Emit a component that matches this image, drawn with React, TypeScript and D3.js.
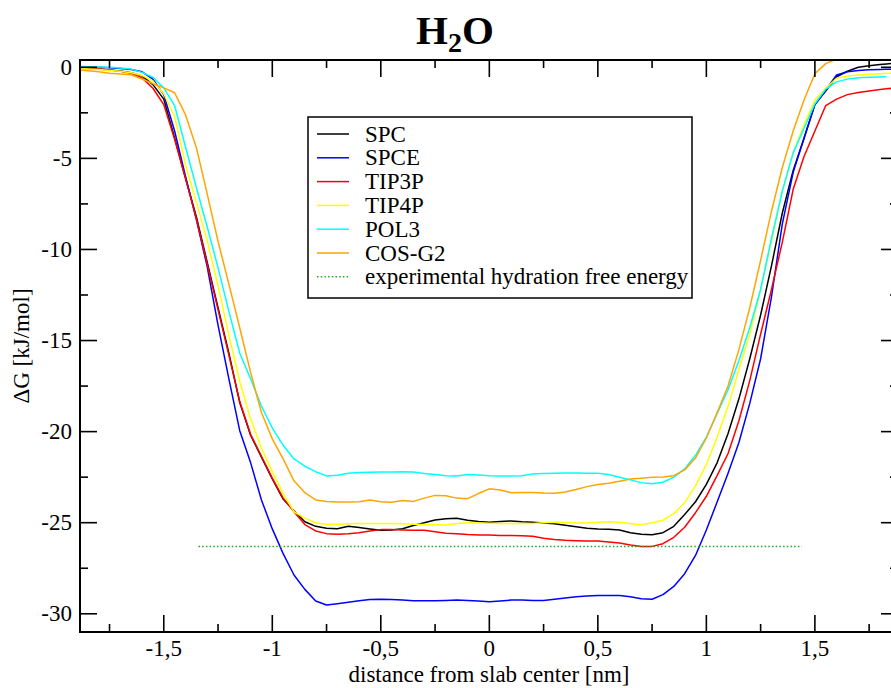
import React from "react";
import * as d3 from "d3";

// distance from slab center [nm]
const xs = [
  -1.886, -1.8, -1.75, -1.7, -1.65, -1.6, -1.55, -1.5, -1.45, -1.4,
  -1.35, -1.3, -1.25, -1.2, -1.15, -1.1, -1.05, -1.0, -0.95, -0.9,
  -0.85, -0.8, -0.75, -0.7, -0.65, -0.6, -0.55, -0.5, -0.45, -0.4,
  -0.35, -0.3, -0.25, -0.2, -0.15, -0.1, -0.05, 0, 0.05, 0.1,
  0.15, 0.2, 0.25, 0.3, 0.35, 0.4, 0.45, 0.5, 0.55, 0.6,
  0.65, 0.7, 0.75, 0.8, 0.85, 0.9, 0.95, 1.0, 1.05, 1.1,
  1.15, 1.2, 1.25, 1.3, 1.35, 1.4, 1.45, 1.5, 1.55, 1.6,
  1.65, 1.7, 1.75, 1.8, 1.83, 1.886,
];

const spc = [
  -0.05, -0.1, -0.15, -0.2, -0.3, -0.48, -0.95, -1.75, -3.88, -6.08,
  -8.2, -10.7, -13.2, -15.7, -18.4, -20.2, -21.4, -22.6, -23.7, -24.35,
  -24.95, -25.2, -25.3, -25.33, -25.2, -25.27, -25.35, -25.42, -25.4, -25.33,
  -25.15, -25.0, -24.85, -24.78, -24.76, -24.86, -24.93, -24.97, -24.93, -24.9,
  -24.95, -24.98, -25.02, -25.06, -25.14, -25.22, -25.3, -25.35, -25.36, -25.4,
  -25.55, -25.64, -25.66, -25.55, -25.2, -24.55, -23.85, -22.9, -21.7, -20.1,
  -18.2, -16.0, -13.6, -10.9, -8.0, -5.66, -3.9, -2.05, -1.3, -0.52,
  -0.22, 0.0, 0.08, 0.15, 0.18, 0.25,
];

const spce = [
  0.03, 0.0, -0.03, -0.07, -0.12, -0.25, -0.65, -1.5, -3.5, -5.98,
  -8.35, -10.94, -14.15, -17.1, -19.95, -21.7, -23.75, -25.34, -26.7, -27.87,
  -28.66, -29.3, -29.52, -29.45, -29.37, -29.28, -29.21, -29.2, -29.21, -29.25,
  -29.29, -29.29, -29.29, -29.27, -29.24, -29.27, -29.3, -29.34, -29.3, -29.25,
  -29.24, -29.27, -29.27, -29.2, -29.13, -29.07, -29.03, -29.0, -29.0, -29.0,
  -29.07, -29.18, -29.2, -28.95, -28.5, -27.8, -26.8, -25.4, -23.85, -22.28,
  -20.6, -18.45, -16.0, -12.6, -8.6, -5.77, -3.9, -2.05, -1.25, -0.42,
  -0.25, -0.17, -0.13, -0.12, -0.11, -0.11,
];

const tip3p = [
  -0.03, -0.1, -0.15, -0.22, -0.33, -0.58, -1.15, -2.05, -3.95, -6.1,
  -8.3, -10.8, -13.3, -15.8, -18.35, -20.15, -21.35, -22.55, -23.65, -24.4,
  -25.1, -25.45, -25.6, -25.63, -25.6, -25.55, -25.45, -25.38, -25.38, -25.4,
  -25.42, -25.42, -25.5, -25.58, -25.6, -25.65, -25.67, -25.68, -25.7, -25.7,
  -25.72, -25.75, -25.85, -25.92, -25.97, -25.99, -26.0, -26.01, -26.06, -26.12,
  -26.22, -26.3, -26.3, -26.15, -25.8, -25.25, -24.45, -23.55, -22.4, -21.2,
  -19.4, -17.2, -14.65, -12.2, -9.6, -6.7, -4.9, -3.5, -2.1, -1.75,
  -1.5, -1.38, -1.3, -1.22, -1.18, -1.12,
];

const tip4p = [
  -0.07, -0.12, -0.17, -0.22, -0.3, -0.45, -0.75, -1.45, -2.7, -5.35,
  -7.4, -9.5, -12.0, -14.7, -17.25, -19.3, -20.9, -22.2, -23.4, -24.4,
  -24.75, -25.0, -25.1, -25.08, -25.06, -25.05, -25.05, -25.05, -25.05, -25.06,
  -25.08, -25.1, -25.11, -25.12, -25.05, -25.0, -25.02, -25.03, -25.04, -25.05,
  -25.05, -25.04, -25.0, -24.98, -24.99, -25.01, -25.02, -24.98, -24.95, -24.97,
  -25.05, -25.12, -25.0, -24.86, -24.5, -23.9, -22.98, -21.8, -20.3, -18.6,
  -16.6, -14.65, -12.2, -9.55, -6.8, -4.68, -3.15, -1.8, -1.15, -0.6,
  -0.48, -0.42, -0.38, -0.35, -0.33, -0.32,
];

const pol3 = [
  0.05, 0.02, 0.0, -0.04, -0.1, -0.28, -0.55, -1.13, -2.1, -4.36,
  -6.6, -8.75, -11.0, -13.4, -15.7, -17.1, -18.6, -19.8, -20.75, -21.5,
  -21.9, -22.2, -22.43, -22.4, -22.28, -22.25, -22.23, -22.22, -22.22, -22.2,
  -22.22, -22.3, -22.36, -22.42, -22.43, -22.36, -22.38, -22.42, -22.43, -22.44,
  -22.42, -22.32, -22.3, -22.28, -22.27, -22.27, -22.28, -22.29, -22.35, -22.5,
  -22.65, -22.8, -22.86, -22.78, -22.5, -22.05, -21.3, -20.3, -19.0, -17.7,
  -16.1, -14.3, -12.2, -9.4, -6.8, -4.7, -3.35, -2.0, -1.2, -0.8,
  -0.65, -0.58, -0.55, -0.53, -0.52, NaN,
];

const cosg2 = [
  -0.15, -0.25, -0.33, -0.37, -0.41, -0.64, -0.9, -1.13, -1.4, -2.6,
  -4.4, -6.95, -9.55, -11.9, -14.3, -16.75, -18.95, -20.4, -21.5, -22.7,
  -23.35, -23.75, -23.83, -23.87, -23.87, -23.85, -23.76, -23.85, -23.88, -23.78,
  -23.83, -23.65, -23.5, -23.52, -23.65, -23.68, -23.4, -23.14, -23.2, -23.35,
  -23.34, -23.34, -23.37, -23.38, -23.32, -23.18, -23.02, -22.9, -22.83, -22.72,
  -22.6, -22.56, -22.5, -22.49, -22.42, -22.1, -21.45, -20.35, -18.95, -17.5,
  -15.5, -13.2, -10.6, -7.9, -5.5, -3.5, -1.8, -0.35, 0.2, 0.45,
  0.65, 0.75, 0.82, 0.88, 0.9, 0.95,
];

const seriesNames = ["SPC", "SPCE", "TIP3P", "TIP4P", "POL3", "COS-G2"];
const seriesValues = [spc, spce, tip3p, tip4p, pol3, cosg2];
const seriesColors = ["#000000", "#0000ff", "#ff0000", "#ffff00", "#00ffff", "#ffa500"];

const expLabel = "experimental hydration free energy";
const expX = [-1.34, 1.44];
const expValue = -26.3;
const expColor = "#22a822";

const xMajorTicks = [-1.5, -1, -0.5, 0, 0.5, 1, 1.5];
const xMinorTicks = [-1.75, -1.25, -0.75, -0.25, 0.25, 0.75, 1.25, 1.75];
const yMajorTicks = [0, -5, -10, -15, -20, -25, -30];
const yMinorTicks = [-2.5, -7.5, -12.5, -17.5, -22.5, -27.5];

const W = 891;
const H = 688;
const L = 80;
const R = 898;
const T = 60;
const B = 632;
const FONT = "'Liberation Serif', 'Times New Roman', serif";
const FS = 23;

export default function App() {
  const x = d3.scaleLinear().domain([-1.886, 1.883]).range([L, R]);
  const y = d3.scaleLinear().domain([0.4, -31]).range([T, B]);

  const line = d3
    .line<number>()
    .defined((d) => !Number.isNaN(d))
    .x((_, i) => x(xs[i]))
    .y((d) => y(d));

  const fmt = (v: number) => String(v).replace(".", ",");

  const legendX = 308;
  const legendY = 117;
  const legendW = 384;
  const legendH = 181;
  const rowY = (i: number) => 134 + i * 23.8;

  return (
    <svg
      width={W}
      height={H}
      style={{ position: "absolute", left: 0, top: 0, display: "block", background: "#fff" }}
      fontFamily={FONT}
    >
      <defs>
        <clipPath id="plotClip">
          <rect x={L} y={T} width={R - L} height={B - T} />
        </clipPath>
      </defs>
      <rect x={0} y={0} width={W} height={H} fill="#fff" />

      {/* title */}
      <text x={455} y={44} textAnchor="middle" fontSize={41} fontWeight="bold">
        H
        <tspan fontSize={28} dy={8}>
          2
        </tspan>
        <tspan dy={-8}>O</tspan>
      </text>

      {/* series */}
      <g clipPath="url(#plotClip)">
        {seriesValues.map((vals, si) => (
          <path
            key={seriesNames[si]}
            d={line(vals) || ""}
            fill="none"
            stroke={seriesColors[si]}
            strokeWidth={1.5}
            strokeLinejoin="round"
          />
        ))}
        <line
          x1={x(expX[0])}
          x2={x(expX[1])}
          y1={y(expValue)}
          y2={y(expValue)}
          stroke={expColor}
          strokeWidth={1.5}
          strokeDasharray="1.5,2.2"
        />
      </g>

      {/* frame */}
      <rect x={L} y={T} width={R - L} height={B - T} fill="none" stroke="#000" strokeWidth={2} />

      {/* x ticks */}
      {xMajorTicks.map((v) => (
        <g key={"xM" + v}>
          <line x1={x(v)} x2={x(v)} y1={B} y2={B - 17} stroke="#000" strokeWidth={1.6} />
          <line x1={x(v)} x2={x(v)} y1={T} y2={T + 17} stroke="#000" strokeWidth={1.6} />
          <text x={x(v)} y={656} textAnchor="middle" fontSize={FS}>
            {fmt(v)}
          </text>
        </g>
      ))}
      {xMinorTicks.map((v) => (
        <g key={"xm" + v}>
          <line x1={x(v)} x2={x(v)} y1={B} y2={B - 8} stroke="#000" strokeWidth={1.6} />
          <line x1={x(v)} x2={x(v)} y1={T} y2={T + 8} stroke="#000" strokeWidth={1.6} />
        </g>
      ))}

      {/* y ticks */}
      {yMajorTicks.map((v) => (
        <g key={"yM" + v}>
          <line x1={L} x2={L + 17} y1={y(v)} y2={y(v)} stroke="#000" strokeWidth={1.6} />
          <line x1={R} x2={R - 17} y1={y(v)} y2={y(v)} stroke="#000" strokeWidth={1.6} />
          <text x={72} y={y(v) + 7.5} textAnchor="end" fontSize={FS}>
            {fmt(v)}
          </text>
        </g>
      ))}
      {yMinorTicks.map((v) => (
        <g key={"ym" + v}>
          <line x1={L} x2={L + 8} y1={y(v)} y2={y(v)} stroke="#000" strokeWidth={1.6} />
          <line x1={R} x2={R - 8} y1={y(v)} y2={y(v)} stroke="#000" strokeWidth={1.6} />
        </g>
      ))}

      {/* axis labels */}
      <text x={489} y={682} textAnchor="middle" fontSize={FS}>
        distance from slab center [nm]
      </text>
      <text
        transform={`translate(29, ${(T + B) / 2}) rotate(-90)`}
        textAnchor="middle"
        fontSize={FS}
      >
        ΔG [kJ/mol]
      </text>

      {/* legend */}
      <rect x={legendX} y={legendY} width={legendW} height={legendH} fill="#fff" stroke="#000" strokeWidth={1.5} />
      {seriesNames.map((name, i) => (
        <g key={"lg" + name}>
          <line x1={317} x2={349} y1={rowY(i)} y2={rowY(i)} stroke={seriesColors[i]} strokeWidth={1.5} />
          <text x={365} y={rowY(i) + 7.5} fontSize={FS}>
            {name}
          </text>
        </g>
      ))}
      <line
        x1={317}
        x2={349}
        y1={rowY(6)}
        y2={rowY(6)}
        stroke={expColor}
        strokeWidth={1.5}
        strokeDasharray="1.5,2.2"
      />
      <text x={365} y={rowY(6) + 7.5} fontSize={FS}>
        {expLabel}
      </text>
    </svg>
  );
}
